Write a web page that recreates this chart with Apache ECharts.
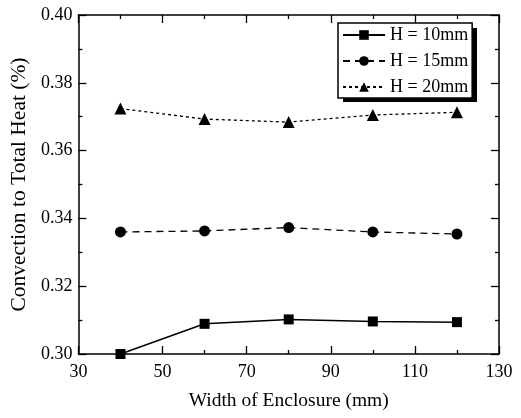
<!DOCTYPE html>
<html>
<head>
<meta charset="utf-8">
<script src="https://cdn.jsdelivr.net/npm/echarts@6/dist/echarts.min.js"></script>
<style>
  html, body { margin: 0; padding: 0; background: #fff; }
  #chart { width: 521px; height: 418px; }
</style>
</head>
<body>
<div id="chart"></div>
<script>
const widths = [40, 60, 80, 100, 120];
const h10 = [0.3000, 0.3089, 0.3102, 0.3096, 0.3094];
const h15 = [0.3360, 0.3363, 0.3373, 0.3360, 0.3354];
const h20 = [0.3724, 0.3693, 0.3684, 0.3705, 0.3713];
const seriesNames = ['H = 10mm', 'H = 15mm', 'H = 20mm'];

const font = 'Liberation Serif';
const pairs = arr => widths.map((w, i) => [w, arr[i]]);

const chart = echarts.init(document.getElementById('chart'));

const tickStyle = { show: true, inside: true, length: 8, lineStyle: { color: '#000', width: 1.3 } };
const minorStyle = { show: true, splitNumber: 2, length: 4, lineStyle: { color: '#000', width: 1.3 } };
const axisLine = { show: true, onZero: false, lineStyle: { color: '#000', width: 1.5 } };

chart.setOption({
  animation: false,
  backgroundColor: '#fff',
  grid: { left: 78, right: 22, top: 15, bottom: 64 },
  // hard drop shadow behind the legend box
  graphic: [{
    type: 'rect', left: 343, top: 28, z: 3,
    shape: { width: 134, height: 74 },
    style: { fill: '#000' }
  }],
  legend: {
    data: seriesNames,
    orient: 'vertical',
    left: 338,
    top: 23,
    itemWidth: 42,
    itemHeight: 12,
    itemGap: 8,
    padding: [3, 4, 2, 4],
    backgroundColor: '#fff',
    borderColor: '#000',
    borderWidth: 1.5,
    textStyle: { fontFamily: font, fontSize: 18, color: '#000' }
  },
  xAxis: [{
    type: 'value', min: 30, max: 130, interval: 20,
    name: 'Width of Enclosure (mm)', nameLocation: 'middle', nameGap: 37,
    nameTextStyle: { fontFamily: font, fontSize: 19.5, color: '#000' },
    axisLine: axisLine, axisTick: tickStyle, minorTick: minorStyle,
    splitLine: { show: false },
    axisLabel: { fontFamily: font, fontSize: 18, color: '#000', margin: 9 }
  }, {
    type: 'value', position: 'top', min: 30, max: 130, interval: 20,
    axisLine: axisLine, axisTick: tickStyle, minorTick: minorStyle,
    splitLine: { show: false }, axisLabel: { show: false }
  }],
  yAxis: [{
    type: 'value', min: 0.30, max: 0.40, interval: 0.02,
    name: 'Convection to Total Heat (%)', nameLocation: 'middle', nameGap: 45,
    nameTextStyle: { fontFamily: font, fontSize: 21.5, color: '#000' },
    axisLine: axisLine, axisTick: tickStyle, minorTick: minorStyle,
    splitLine: { show: false },
    axisLabel: { fontFamily: font, fontSize: 18, color: '#000', margin: 6,
      formatter: v => v.toFixed(2) }
  }, {
    type: 'value', position: 'right', min: 0.30, max: 0.40, interval: 0.02,
    axisLine: axisLine, axisTick: tickStyle, minorTick: minorStyle,
    splitLine: { show: false }, axisLabel: { show: false }
  }],
  series: [{
    name: seriesNames[0], type: 'line', data: pairs(h10),
    symbol: 'rect', symbolSize: 10,
    itemStyle: { color: '#000' },
    lineStyle: { color: '#000', width: 1.5, type: 'solid' }
  }, {
    name: seriesNames[1], type: 'line', data: pairs(h15),
    symbol: 'circle', symbolSize: 11,
    itemStyle: { color: '#000' },
    lineStyle: { color: '#000', width: 1.3, type: [7, 5] }
  }, {
    name: seriesNames[2], type: 'line', data: pairs(h20),
    symbol: 'triangle', symbolSize: 12,
    itemStyle: { color: '#000' },
    lineStyle: { color: '#000', width: 1.3, type: [3, 3] }
  }]
});
</script>
</body>
</html>
